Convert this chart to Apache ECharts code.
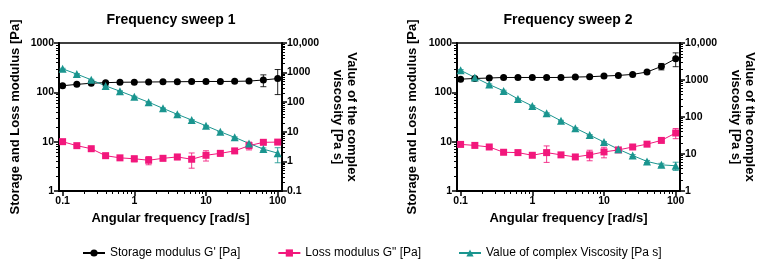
<!DOCTYPE html>
<html>
<head>
<meta charset="utf-8">
<script src="https://cdn.jsdelivr.net/npm/echarts@6/dist/echarts.min.js"></script>
<style>
  html, body { margin: 0; padding: 0; background: #fff; }
  #main { width: 760px; height: 267px; }
</style>
</head>
<body>
<div id="main"></div>
<script>
// angular frequency [rad/s], 5 points per decade
var freq = [0.1, 0.158, 0.251, 0.398, 0.631, 1, 1.585, 2.512, 3.981, 6.31, 10, 15.85, 25.12, 39.81, 63.1, 100];

// sweep 1
var storage1    = [136, 145, 153, 157, 160, 161, 162, 163, 164, 165, 166, 166, 167, 169, 178, 190];
var storage1Err = [4, 4, 3, 3, 3, 3, 3, 3, 3, 3, 3, 3, 4, 5, 48, 100];
var loss1       = [10.0, 8.3, 7.2, 5.2, 4.7, 4.5, 4.2, 4.6, 4.9, 4.4, 5.3, 5.8, 6.5, 8.3, 9.7, 9.8];
var loss1Err    = [0.3, 0.3, 0.3, 0.3, 0.3, 0.6, 0.8, 0.5, 0.6, 1.5, 1.25, 0.7, 0.6, 1.5, 0.4, 0.4];
var visc1       = [1340, 890, 570, 356, 235, 154, 100, 62, 39, 25, 16, 10, 6.5, 4.05, 2.6, 1.9];
var visc1Err    = [60, 40, 25, 15, 8, 5, 3, 2, 1.2, 0.8, 0.5, 0.3, 0.25, 0.2, 0.25, 1.0];

// sweep 2
var storage2    = [185, 191, 195, 200, 200, 200, 200, 200, 204, 207, 214, 220, 231, 258, 335, 481];
var storage2Err = [6, 5, 4, 4, 4, 4, 4, 4, 4, 4, 5, 5, 6, 10, 50, 150];
var loss2       = [8.8, 8.4, 7.8, 6.1, 6.0, 5.3, 6.0, 5.4, 4.9, 5.4, 6.2, 6.8, 7.8, 8.9, 10.6, 15.0];
var loss2Err    = [0.4, 0.3, 0.3, 0.3, 0.3, 0.5, 2.2, 0.6, 0.5, 1.3, 1.5, 0.6, 0.4, 0.4, 0.5, 3.5];
var visc2       = [1830, 1170, 753, 508, 308, 199, 126, 79, 50, 32.5, 21, 13.5, 9.1, 6.3, 5.1, 4.8];
var visc2Err    = [80, 50, 30, 20, 10, 6, 4, 2.5, 1.5, 1, 0.8, 0.6, 0.5, 0.4, 0.5, 1.2];

// tick labels
var xTicks = [0.1, 1, 10, 100];
var yTicksLeft = [1, 10, 100, 1000];
var yTicksRight1 = [0.1, 1, 10, 100, 1000, 10000];
var yTicksRight2 = [1, 10, 100, 1000, 10000];

var names = ["Storage modulus G' [Pa]", 'Loss modulus G" [Pa]', 'Value of complex Viscosity [Pa s]'];
var colors = ['#000000', '#f2177c', '#1a958f'];
var font = 'Liberation Sans, Arial, sans-serif';

// 2..9 ticks inside each decade
function minorTicks(from, to) {
    var out = [];
    for (var d = from; d < to; d *= 10) {
        for (var k = 2; k <= 9; k++) out.push(+(k * d).toPrecision(3));
    }
    return out;
}

function fmt(v) {
    return v >= 10000 ? v.toLocaleString('en-US') : String(+v.toPrecision(6));
}

var grids = [
    { left: 59, top: 43, width: 223, height: 148 },
    { left: 457, top: 43, width: 223, height: 148 }
];

var xAxes = [], yAxes = [], series = [];

function addChart(g, storage, storageErr, loss, lossErr, visc, viscErr, rightMin, rightTicks, leftGap) {
    var xMain = xAxes.length;
    xAxes.push({
        type: 'log', gridIndex: g, min: 0.0891, max: 114.8, position: 'bottom',
        axisLine: { onZero: false, lineStyle: { color: '#000', width: 2 } },
        axisTick: { customValues: xTicks, length: 5, lineStyle: { color: '#000', width: 1.5 } },
        axisLabel: { customValues: xTicks, formatter: fmt, margin: 5, color: '#000', fontWeight: 'bold', fontSize: 10.5, fontFamily: font },
        splitLine: { show: false },
        name: 'Angular frequency [rad/s]', nameLocation: 'middle', nameGap: 20,
        nameTextStyle: { color: '#000', fontWeight: 'bold', fontSize: 13, fontFamily: font }
    });
    xAxes.push({
        type: 'log', gridIndex: g, min: 0.0891, max: 114.8, position: 'bottom',
        axisLine: { show: false },
        axisTick: { customValues: minorTicks(0.1, 100), length: 3, lineStyle: { color: '#000', width: 1 } },
        axisLabel: { show: false }, splitLine: { show: false }
    });

    var yLeft = yAxes.length;
    yAxes.push({
        type: 'log', gridIndex: g, min: 1, max: 1000, position: 'left',
        axisLine: { show: true, lineStyle: { color: '#000', width: 2 } },
        axisTick: { show: true, customValues: yTicksLeft, length: 5, lineStyle: { color: '#000', width: 1.5 } },
        axisLabel: { customValues: yTicksLeft, formatter: fmt, margin: 5, color: '#000', fontWeight: 'bold', fontSize: 10.5, fontFamily: font },
        splitLine: { show: false },
        name: 'Storage and Loss modulus [Pa]', nameLocation: 'middle', nameGap: leftGap,
        nameTextStyle: { color: '#000', fontWeight: 'bold', fontSize: 13, fontFamily: font }
    });
    yAxes.push({
        type: 'log', gridIndex: g, min: 1, max: 1000, position: 'left',
        axisLine: { show: false },
        axisTick: { show: true, customValues: minorTicks(1, 1000), length: 3, lineStyle: { color: '#000', width: 1 } },
        axisLabel: { show: false }, splitLine: { show: false }
    });
    var yRight = yAxes.length;
    yAxes.push({
        type: 'log', gridIndex: g, min: rightMin, max: 10000, position: 'right',
        axisLine: { show: true, lineStyle: { color: '#000', width: 2 } },
        axisTick: { show: true, customValues: rightTicks, length: 5, lineStyle: { color: '#000', width: 1.5 } },
        axisLabel: { customValues: rightTicks, formatter: fmt, margin: 5, color: '#000', fontWeight: 'bold', fontSize: 10.5, fontFamily: font },
        splitLine: { show: false },
        name: 'Value of the complex\nviscosity [Pa s]', nameLocation: 'middle', nameGap: 49, nameRotate: -90,
        nameTextStyle: { color: '#000', fontWeight: 'bold', fontSize: 13, lineHeight: 14, fontFamily: font }
    });
    yAxes.push({
        type: 'log', gridIndex: g, min: rightMin, max: 10000, position: 'right',
        axisLine: { show: false },
        axisTick: { show: true, customValues: minorTicks(rightMin, 10000), length: 3, lineStyle: { color: '#000', width: 1 } },
        axisLabel: { show: false }, splitLine: { show: false }
    });

    var sets = [
        [storage, storageErr, yLeft, 'circle', 7],
        [loss, lossErr, yLeft, 'rect', 7],
        [visc, viscErr, yRight, 'triangle', 8]
    ];
    sets.forEach(function (s, i) {
        series.push({
            type: 'custom', xAxisIndex: xMain, yAxisIndex: s[2], z: 1, silent: true,
            data: freq.map(function (f, j) { return [f, s[0][j], s[1][j]]; }),
            encode: { x: 0, y: 1 },
            renderItem: errorBars(colors[i])
        });
        series.push({
            name: names[i], type: 'line', xAxisIndex: xMain, yAxisIndex: s[2], z: 3,
            data: freq.map(function (f, j) { return [f, s[0][j]]; }),
            symbol: s[3], symbolSize: s[4], showSymbol: true,
            itemStyle: { color: colors[i] },
            lineStyle: { color: colors[i], width: 1 }
        });
    });
}

function errorBars(color) {
    return function (params, api) {
        var x = api.value(0), y = api.value(1), e = api.value(2);
        var hi = api.coord([x, y + e]);
        var lo = api.coord([x, y - e]);
        var w = 3;
        var style = { stroke: color, lineWidth: 1, opacity: 0.85 };
        return {
            type: 'group',
            children: [
                { type: 'line', shape: { x1: hi[0], y1: hi[1], x2: lo[0], y2: lo[1] }, style: style },
                { type: 'line', shape: { x1: hi[0] - w, y1: hi[1], x2: hi[0] + w, y2: hi[1] }, style: style },
                { type: 'line', shape: { x1: lo[0] - w, y1: lo[1], x2: lo[0] + w, y2: lo[1] }, style: style }
            ]
        };
    };
}

addChart(0, storage1, storage1Err, loss1, loss1Err, visc1, visc1Err, 0.1, yTicksRight1, 37);
addChart(1, storage2, storage2Err, loss2, loss2Err, visc2, visc2Err, 1, yTicksRight2, 38);

var myChart = echarts.init(document.getElementById('main'));
var option = {
    animation: false,
    textStyle: { fontFamily: font },
    title: [
        { text: 'Frequency sweep 1', left: 171, top: 13, textAlign: 'center', padding: 0,
          textStyle: { fontSize: 14, fontWeight: 'bold', color: '#000', fontFamily: font } },
        { text: 'Frequency sweep 2', left: 568, top: 13, textAlign: 'center', padding: 0,
          textStyle: { fontSize: 14, fontWeight: 'bold', color: '#000', fontFamily: font } }
    ],
    legend: {
        data: names, left: 77, top: 242, itemWidth: 22, itemHeight: 9, itemGap: 37,
        textStyle: { fontSize: 12, color: '#000', fontFamily: font }
    },
    grid: grids.map(function (g) {
        return { left: g.left, top: g.top, width: g.width, height: g.height, show: true,
                 borderColor: '#000', borderWidth: 1.5, outerBoundsMode: 'none', containLabel: false };
    }),
    xAxis: xAxes,
    yAxis: yAxes,
    series: series
};
myChart.setOption(option);
</script>
</body>
</html>
